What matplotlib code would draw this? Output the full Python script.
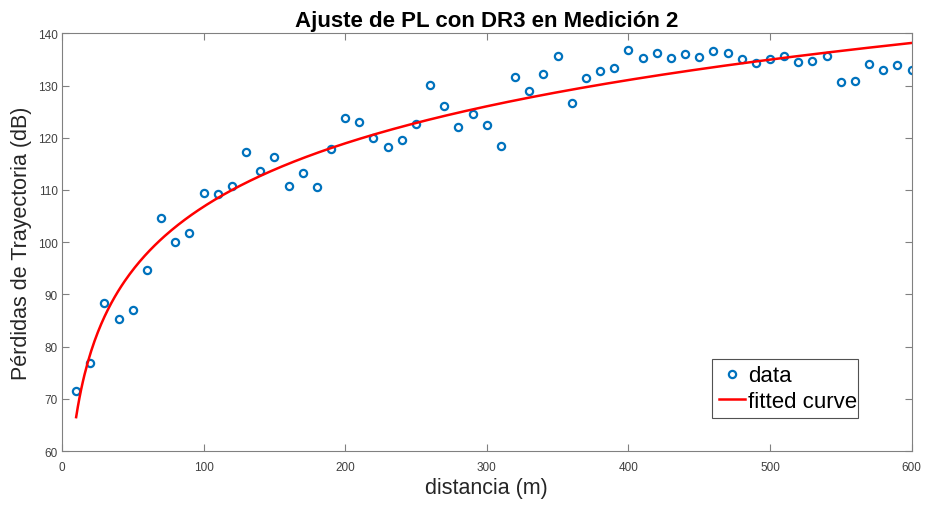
import numpy as np
import matplotlib
matplotlib.use('Agg')
import matplotlib.pyplot as plt

# Medición 2: distancia (m) y pérdidas medidas (dB)
distancia = np.arange(10, 601, 10)
perdidas = [71.4, 76.8, 88.3, 85.3, 87.1, 94.7, 104.7, 100.0, 101.7, 109.4,
            109.2, 110.8, 117.2, 113.7, 116.3, 110.8, 113.3, 110.5, 117.9, 123.8,
            123.0, 119.9, 118.2, 119.6, 122.7, 130.1, 126.0, 122.0, 124.6, 122.4,
            118.5, 131.7, 128.9, 132.2, 135.6, 126.6, 131.4, 132.8, 133.4, 136.8,
            135.2, 136.2, 135.2, 136.0, 135.4, 136.7, 136.2, 135.1, 134.4, 135.0,
            135.6, 134.6, 134.7, 135.7, 130.6, 130.8, 134.2, 133.0, 133.9, 133.0]

# modelo log-distancia PL = A + B*log10(d), ajustado por mínimos cuadrados
B, A = np.polyfit(np.log10(distancia), perdidas, 1)
d_fit = np.linspace(10, 600, 500)
pl_fit = A + B * np.log10(d_fit)

plt.rcParams['font.family'] = ['Liberation Sans', 'DejaVu Sans']

fig = plt.figure(figsize=(9.25, 5.06), dpi=100)
ax = fig.add_axes([0.067, 0.1067, 0.9185, 0.8255])

ax.plot(distancia, perdidas, 'o', mfc='none', mec='#0072BD', ms=5.2, mew=1.6, label='data')
ax.plot(d_fit, pl_fit, '-', color='#FF0000', lw=1.8, label='fitted curve')

ax.set_xlim(0, 600)
ax.set_ylim(60, 140)
ax.set_xticks(np.arange(0, 601, 100))
ax.set_yticks(np.arange(60, 141, 10))

for s in ax.spines.values():
    s.set_color('#808080')
    s.set_linewidth(0.8)
ax.tick_params(direction='in', length=5, width=0.8, color='#808080',
               labelsize=8.5, labelcolor='#404040', top=True, right=True)
ax.tick_params(axis='x', pad=7)
ax.tick_params(axis='y', pad=3)

ax.set_xlabel('distancia (m)', fontsize=15.5, color='#262626', labelpad=3)
ax.set_ylabel('Pérdidas de Trayectoria (dB)', fontsize=15.5, color='#262626', labelpad=4)
ax.set_title('Ajuste de PL con DR3 en Medición 2', fontsize=16, fontweight='bold', pad=5)

leg = ax.legend(loc='lower left', bbox_to_anchor=(0.7655, 0.078, 0.172, 0.146), mode='expand',
                fontsize=16, frameon=True, fancybox=False, borderaxespad=0,
                handlelength=1.15, handletextpad=0.15, labelspacing=0.2, borderpad=0.3)
leg.get_frame().set_edgecolor('#262626')
leg.get_frame().set_linewidth(0.8)

fig.savefig('out.png', dpi=100)
